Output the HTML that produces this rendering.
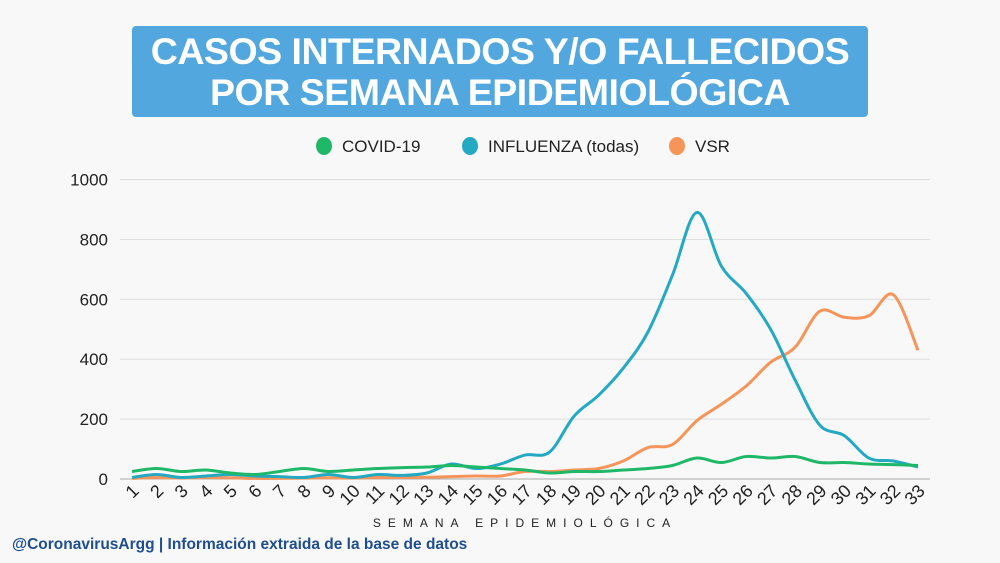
<!DOCTYPE html>
<html><head><meta charset="utf-8"><style>
body{margin:0;width:1000px;height:563px;background:#f8f8f8;font-family:"Liberation Sans",sans-serif;overflow:hidden;position:relative}
#title{position:absolute;left:132px;top:26px;width:736px;height:91px;background:#53a7df;border-radius:4px;color:#fff;font-weight:bold;font-size:37.5px;line-height:41px;text-align:center;padding-top:5px;box-sizing:border-box;letter-spacing:-0.5px}
#footer{position:absolute;left:12px;top:536px;color:#1f4e8f;font-weight:bold;font-size:15.5px}
svg{position:absolute;left:0;top:0}
</style></head><body>
<div id="title">CASOS INTERNADOS Y/O FALLECIDOS<br>POR SEMANA EPIDEMIOLÓGICA</div>
<div id="footer">@CoronavirusArgg | Información extraida de la base de datos</div>
<svg id="chart" width="1000" height="563"></svg>
<script>
const weeks=[1,2,3,4,5,6,7,8,9,10,11,12,13,14,15,16,17,18,19,20,21,22,23,24,25,26,27,28,29,30,31,32,33];
const covid=[25,35,25,30,20,15,25,35,25,30,35,38,40,45,40,35,30,20,25,25,30,35,45,70,55,75,70,75,55,55,50,48,45];
const influenza=[5,15,5,10,15,10,8,5,15,5,15,12,20,50,35,50,80,90,210,280,370,490,680,890,710,620,500,330,180,145,70,60,40];
const vsr=[2,5,3,5,4,2,2,3,4,3,5,5,6,8,10,10,25,25,30,35,60,105,115,195,250,310,390,440,560,540,545,615,430];
const yTicks=[0,200,400,600,800,1000];
const seriesNames=["COVID-19","INFLUENZA (todas)","VSR"];
const colors=["#1fb868","#24a9c3","#f5955a"];
const NS="http://www.w3.org/2000/svg";
const svg=document.getElementById('chart');
const X=i=>132+(i)*(918-132)/(weeks.length-1);
const Y=v=>479-v*0.2995;
function mk(t,a){const e=document.createElementNS(NS,t);for(const k in a)e.setAttribute(k,a[k]);svg.appendChild(e);return e;}
yTicks.forEach(t=>{
 const l=mk('line',{x1:120,x2:930,y1:Y(t),y2:Y(t),stroke:t===0?'#aaa':'#ddd','stroke-width':1});
 
 
 const tx=mk('text',{x:108,y:Y(t)+6,'text-anchor':'end','font-size':17,fill:'#222'});
 tx.textContent=t;
 
 
});
weeks.forEach((w,i)=>{
 const tx=mk('text',{x:X(i)+8,y:492,'text-anchor':'end','font-size':18,fill:'#222',transform:`rotate(-45 ${X(i)+8} 492)`});
 tx.textContent=w;
 
 
});
const xt=mk('text',{x:525,y:527,'text-anchor':'middle','font-size':12,fill:'#222','letter-spacing':'7'});
xt.textContent='SEMANA EPIDEMIOLÓGICA';


function path(vals){
 const p=vals.map((v,i)=>[X(i),Y(v)]);
 let d=`M${p[0][0]},${p[0][1]}`;
 for(let i=0;i<p.length-1;i++){
  const p0=p[i-1]||p[i],p1=p[i],p2=p[i+1],p3=p[i+2]||p2;
  const c1=[p1[0]+(p2[0]-p0[0])/6,p1[1]+(p2[1]-p0[1])/6],c2=[p2[0]-(p3[0]-p1[0])/6,p2[1]-(p3[1]-p1[1])/6];
  d+=` C${c1[0]},${c1[1]} ${c2[0]},${c2[1]} ${p2[0]},${p2[1]}`;
 }
 return d;
}
[[vsr,2,'vsr-line'],[influenza,1,'influenza-line'],[covid,0,'covid-line']].forEach(([v,c,n])=>{
 const e=mk('path',{d:path(v),fill:'none',stroke:colors[c],'stroke-width':3,'stroke-linejoin':'round'});
 
 
});
const lx=[324,470,677];
seriesNames.forEach((s,i)=>{
 const c=mk('ellipse',{cx:lx[i],cy:146,rx:8,ry:9,fill:colors[i]});
 
 
 const t=mk('text',{x:lx[i]+18,y:152,'font-size':17,fill:'#222'});
 t.textContent=s;
 
 
});
</script>
</body></html>
